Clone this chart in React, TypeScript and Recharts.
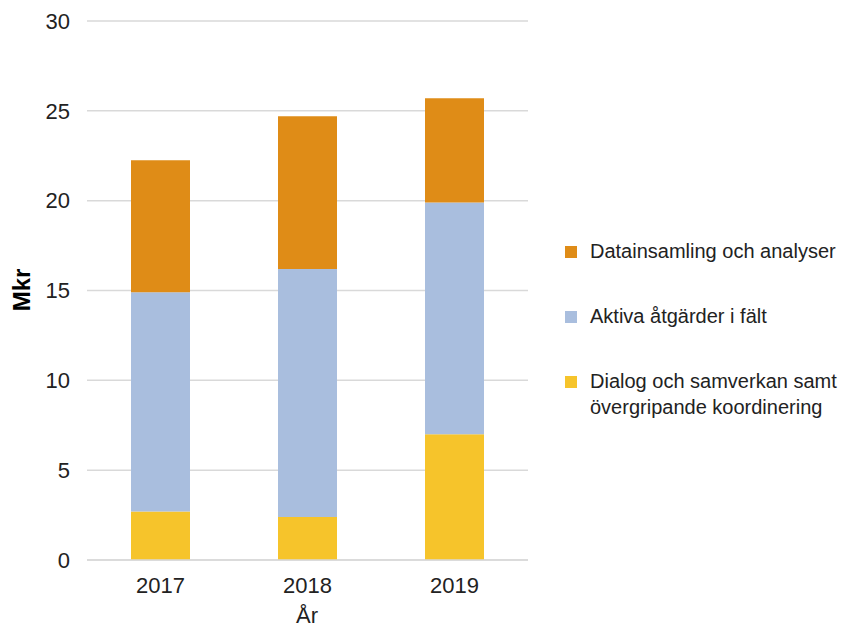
import { BarChart, Bar, XAxis, YAxis, CartesianGrid } from "recharts";

const years = ["2017", "2018", "2019"];
const dialog = [2.7, 2.4, 7.0];
const aktiva = [12.2, 13.8, 12.9];
const data_insamling = [7.35, 8.5, 5.8];
const yTicks = [0, 5, 10, 15, 20, 25, 30];

const seriesInfo = [
  { key: "data", name: "Datainsamling och analyser", color: "#DF8C17" },
  { key: "aktiva", name: "Aktiva åtgärder i fält", color: "#A9BEDE" },
  { key: "dialog", name: "Dialog och samverkan samt övergripande koordinering", color: "#F6C42B" },
];

const rows = years.map((year, i) => ({
  year,
  dialog: dialog[i],
  aktiva: aktiva[i],
  data: data_insamling[i],
}));

const font = "'Liberation Sans', Arial, sans-serif";

export default function App() {
  return (
    <div
      style={{
        position: "absolute",
        left: 0,
        top: 0,
        width: 842,
        height: 632,
        overflow: "hidden",
        background: "#fff",
        fontFamily: font,
      }}
    >
      <BarChart
        width={842}
        height={632}
        data={rows}
        margin={{ top: 21, right: 314, left: 0, bottom: 0 }}
      >
        <CartesianGrid vertical={false} stroke="#D9D9D9" strokeWidth={1.5} />
        <XAxis
          dataKey="year"
          height={72}
          tickLine={false}
          axisLine={{ stroke: "#D9D9D9", strokeWidth: 1.5 }}
          tickSize={0}
          tickMargin={17}
          tick={{ fontSize: 22, fill: "#222", fontFamily: font }}
        />
        <YAxis
          width={87}
          domain={[0, 30]}
          ticks={yTicks}
          tickLine={false}
          axisLine={false}
          tickSize={0}
          tickMargin={17}
          tick={{ fontSize: 22, fill: "#222", fontFamily: font }}
        />
        <Bar dataKey="dialog" stackId="a" fill="#F6C42B" barSize={59} isAnimationActive={false} />
        <Bar dataKey="aktiva" stackId="a" fill="#A9BEDE" barSize={59} isAnimationActive={false} />
        <Bar dataKey="data" stackId="a" fill="#DF8C17" barSize={59} isAnimationActive={false} />
      </BarChart>
      {/* axis titles */}
      <div
        style={{
          position: "absolute",
          left: 22,
          top: 290,
          transform: "translate(-50%, -50%) rotate(-90deg)",
          fontSize: 24,
          fontWeight: "bold",
          color: "#000",
          whiteSpace: "nowrap",
        }}
      >
        Mkr
      </div>
      <div
        style={{
          position: "absolute",
          left: 307,
          top: 616,
          transform: "translate(-50%, -50%)",
          fontSize: 22,
          color: "#222",
          whiteSpace: "nowrap",
        }}
      >
        År
      </div>
      <div style={{ position: "absolute", left: 565, top: 238, width: 277, color: "#222", fontSize: 20, lineHeight: "26px" }}>
        {seriesInfo.map((s) => (
          <div key={s.key} style={{ display: "flex", alignItems: "flex-start", marginBottom: 39 }}>
            <span style={{ width: 12, height: 12, background: s.color, marginTop: 8, marginRight: 13, flexShrink: 0 }} />
            <span style={{ width: 260 }}>{s.name}</span>
          </div>
        ))}
      </div>
    </div>
  );
}
